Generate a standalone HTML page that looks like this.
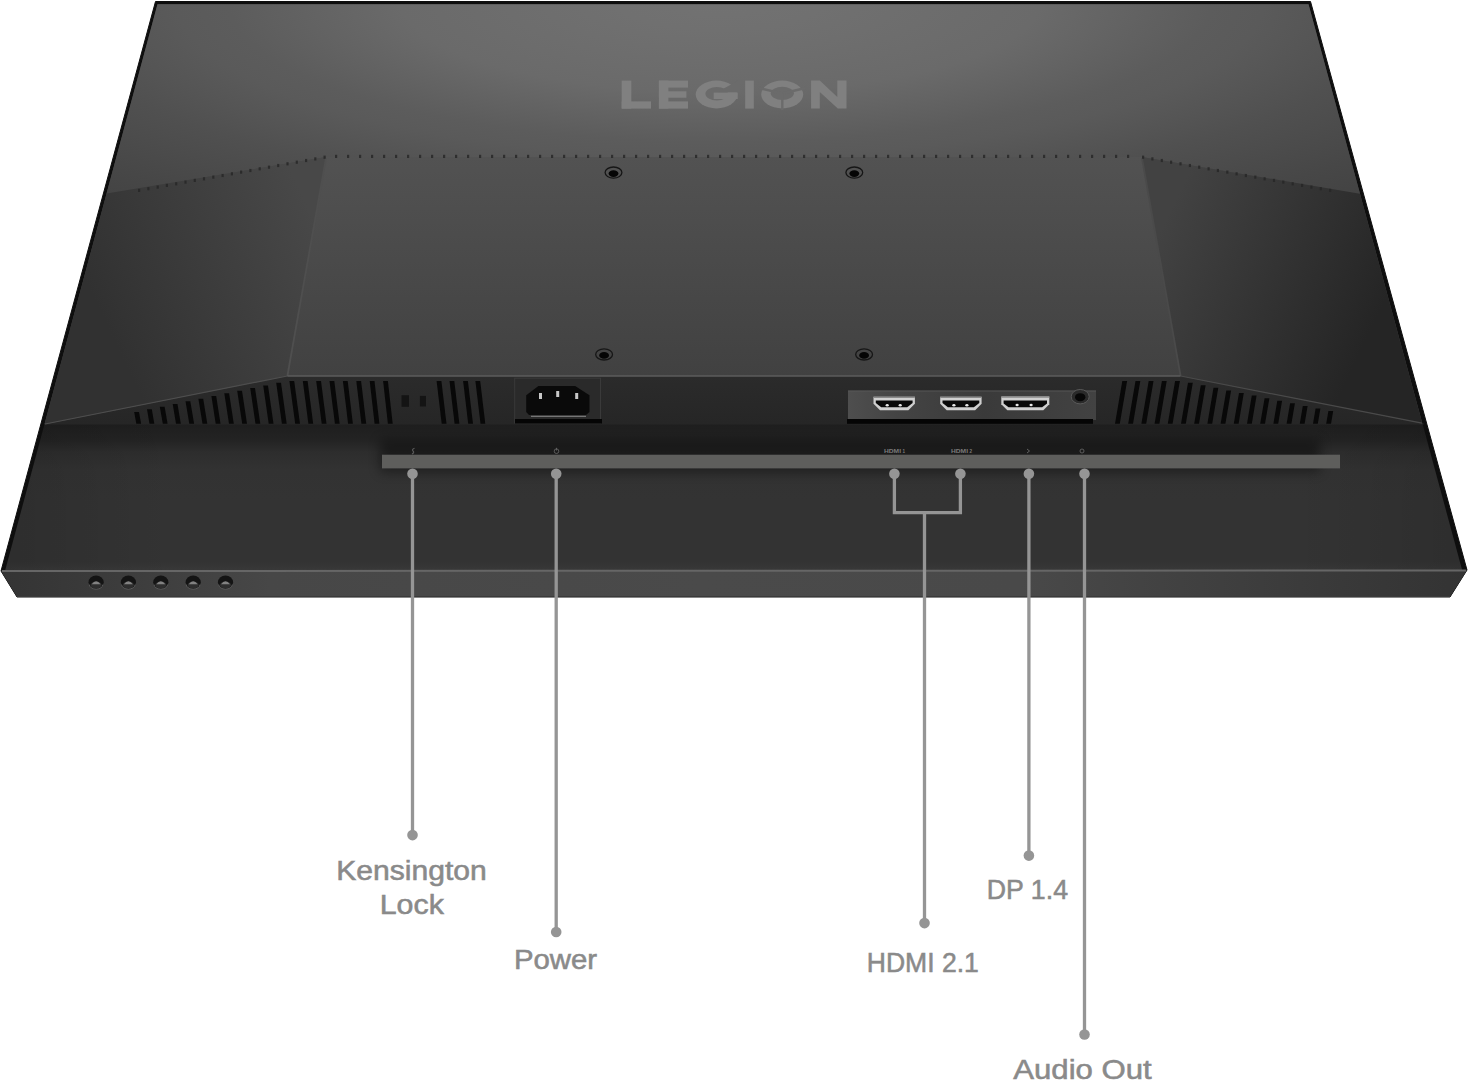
<!DOCTYPE html>
<html><head><meta charset="utf-8"><title>Monitor ports</title>
<style>html,body{margin:0;padding:0;background:#fff;width:1468px;height:1080px;overflow:hidden}svg{display:block}</style>
</head><body><svg width="1468" height="1080" viewBox="0 0 1468 1080"><defs>
<radialGradient id="gUp" gradientUnits="userSpaceOnUse" cx="720" cy="0" r="1040" gradientTransform="translate(720 0) scale(1 0.289) translate(-720 0)">
 <stop offset="0" stop-color="#727272"/><stop offset="0.1" stop-color="#707070"/><stop offset="0.308" stop-color="#6a6a6a"/>
 <stop offset="0.473" stop-color="#5c5c5c"/><stop offset="0.523" stop-color="#5a5a5a"/><stop offset="0.654" stop-color="#505050"/>
 <stop offset="0.808" stop-color="#474747"/><stop offset="1" stop-color="#3e3e3e"/>
</radialGradient>
<linearGradient id="gCen" gradientUnits="userSpaceOnUse" x1="0" y1="157" x2="0" y2="376">
 <stop offset="0" stop-color="#525252"/><stop offset="1" stop-color="#414141"/>
</linearGradient>
<linearGradient id="gWingL" gradientUnits="userSpaceOnUse" x1="300" y1="190" x2="90" y2="290">
 <stop offset="0" stop-color="#484848"/><stop offset="1" stop-color="#313131"/>
</linearGradient>
<linearGradient id="gWingR" gradientUnits="userSpaceOnUse" x1="1180" y1="190" x2="1390" y2="290">
 <stop offset="0" stop-color="#424242"/><stop offset="1" stop-color="#252525"/>
</linearGradient>
<linearGradient id="gShelf" gradientUnits="userSpaceOnUse" x1="0" y1="376" x2="0" y2="424">
 <stop offset="0" stop-color="#2b2b2b"/><stop offset="1" stop-color="#262626"/>
</linearGradient>
<linearGradient id="gChin" gradientUnits="userSpaceOnUse" x1="0" y1="424" x2="0" y2="570">
 <stop offset="0" stop-color="#1e1e1e"/><stop offset="0.11" stop-color="#232323"/><stop offset="0.192" stop-color="#2d2d2d"/>
 <stop offset="0.315" stop-color="#323232"/><stop offset="0.52" stop-color="#333333"/><stop offset="0.945" stop-color="#333333"/><stop offset="1" stop-color="#383838"/>
</linearGradient>
<linearGradient id="gPlate" gradientUnits="userSpaceOnUse" x1="848" y1="0" x2="1096" y2="0">
 <stop offset="0" stop-color="#4e4e4e"/><stop offset="0.2" stop-color="#444"/><stop offset="0.55" stop-color="#3a3a3a"/><stop offset="1" stop-color="#424242"/>
</linearGradient>
<linearGradient id="gLedge" gradientUnits="userSpaceOnUse" x1="0" y1="0" x2="1468" y2="0">
 <stop offset="0" stop-color="#343434"/><stop offset="0.034" stop-color="#373737"/><stop offset="0.184" stop-color="#474747"/>
 <stop offset="0.477" stop-color="#4a4a4a"/><stop offset="0.695" stop-color="#494949"/><stop offset="0.9" stop-color="#3a3a3a"/><stop offset="1" stop-color="#333"/>
</linearGradient>
<linearGradient id="gSide" gradientUnits="userSpaceOnUse" x1="0" y1="0" x2="1468" y2="0">
 <stop offset="0" stop-color="#000" stop-opacity="0.11"/><stop offset="0.12" stop-color="#000" stop-opacity="0"/>
 <stop offset="0.88" stop-color="#000" stop-opacity="0"/><stop offset="1" stop-color="#000" stop-opacity="0.11"/>
</linearGradient>
<filter id="blur6" x="-20%" y="-50%" width="140%" height="200%"><feGaussianBlur stdDeviation="6"/></filter>
</defs><path d="M155.5,1.5 L1310.5,1.5 L1467,570 L1450,597 L17,597 L1,571 Z" fill="#0e0e0e" stroke="#0e0e0e" stroke-width="1" stroke-linejoin="round"/><path d="M44.7,423.5 L1422.4,423.5 L1462.1,570 L5.3,570 Z" fill="url(#gChin)"/><path d="M44.7,423.5 L1422.4,423.5 L1462.1,570 L5.3,570 Z" fill="url(#gSide)"/><path d="M380,440 L1320,440 L1320,472 L380,472 Z" fill="#000" opacity="0.4" filter="url(#blur6)"/><path d="M157.5,4.2 L1308.5,4.2 L1422.5,424 L44.6,424 Z" fill="#454545"/><path d="M157.5,4.2 L1308.5,4.2 L1360.1,194 L1360,193.7 L1142,157 L326,157 L106.4,193.5 L106.4,194 Z" fill="url(#gUp)"/><path d="M106.6,193.5 L106.4,193.5 L326,157 L287.4,376 L43.5,424.5 L44.4,424.5 Z" fill="url(#gWingL)"/><path d="M1360,193.7 L1360.0,193.7 L1422.5,424 L1423.6,423.5 L1180.6,376 L1142,157 Z" fill="url(#gWingR)"/><path d="M326,157 L1142,157 L1180.6,376 L287.4,376 Z" fill="url(#gCen)"/><path d="M326,158 L287.4,376" stroke="#4f4f4f" stroke-width="1.8"/><path d="M1142,158 L1180.6,376" stroke="#4a4a4a" stroke-width="1.8"/><path d="M43.5,424.5 L287.4,376 L1180.6,376 L1423.6,423.5 L1423.6,424.5 Z" fill="url(#gShelf)"/><path d="M45,424 L287.4,376" fill="none" stroke="#4e4e4e" stroke-width="1.2"/><path d="M287.4,376 L1180.6,376" fill="none" stroke="#5c5c5c" stroke-width="1.6"/><path d="M1180.6,376 L1422,423.2" fill="none" stroke="#4a4a4a" stroke-width="1.2"/><path d="M1,571 L1467,570 L1450,597 L17,597 Z" fill="url(#gLedge)"/><path d="M17,596.5 L1450,596.5" stroke="#3a3a3a" stroke-width="1.2"/><path d="M2,571 L1466,570.5" stroke="#666" stroke-width="2"/><path d="M134.2,412.0 L139.0,412.0 L141.1,423.8 L136.3,423.8 Z" fill="#080808"/><path d="M147.0,409.3 L151.8,409.3 L154.3,423.8 L149.5,423.8 Z" fill="#080808"/><path d="M159.8,406.7 L164.6,406.7 L167.6,423.8 L162.8,423.8 Z" fill="#080808"/><path d="M172.7,404.0 L177.5,404.0 L180.8,423.8 L176.0,423.8 Z" fill="#080808"/><path d="M185.5,401.3 L190.3,401.3 L194.1,423.8 L189.3,423.8 Z" fill="#080808"/><path d="M198.4,398.7 L203.2,398.7 L207.3,423.8 L202.5,423.8 Z" fill="#080808"/><path d="M211.4,396.0 L216.2,396.0 L220.5,423.8 L215.7,423.8 Z" fill="#080808"/><path d="M224.3,393.3 L229.1,393.3 L233.8,423.8 L229.0,423.8 Z" fill="#080808"/><path d="M237.2,390.7 L242.0,390.7 L247.0,423.8 L242.2,423.8 Z" fill="#080808"/><path d="M250.2,388.0 L255.0,388.0 L260.3,423.8 L255.5,423.8 Z" fill="#080808"/><path d="M263.2,385.4 L268.0,385.4 L273.5,423.8 L268.7,423.8 Z" fill="#080808"/><path d="M276.2,382.7 L281.0,382.7 L286.7,423.8 L281.9,423.8 Z" fill="#080808"/><path d="M289.4,380.9 L294.2,380.9 L300.0,423.8 L295.2,423.8 Z" fill="#080808"/><path d="M302.8,380.9 L307.6,380.9 L313.2,423.8 L308.4,423.8 Z" fill="#080808"/><path d="M316.2,380.9 L321.0,380.9 L326.5,423.8 L321.7,423.8 Z" fill="#080808"/><path d="M329.5,380.9 L334.3,380.9 L339.7,423.8 L334.9,423.8 Z" fill="#080808"/><path d="M342.9,380.9 L347.7,380.9 L352.9,423.8 L348.1,423.8 Z" fill="#080808"/><path d="M356.3,380.9 L361.1,380.9 L366.2,423.8 L361.4,423.8 Z" fill="#080808"/><path d="M369.7,380.9 L374.5,380.9 L379.4,423.8 L374.6,423.8 Z" fill="#080808"/><path d="M383.1,380.9 L387.9,380.9 L392.7,423.8 L387.9,423.8 Z" fill="#080808"/><path d="M436.6,380.9 L441.4,380.9 L446.5,423.8 L441.7,423.8 Z" fill="#080808"/><path d="M449.5,380.9 L454.3,380.9 L459.4,423.8 L454.6,423.8 Z" fill="#080808"/><path d="M463.1,380.9 L467.9,380.9 L473.0,423.8 L468.2,423.8 Z" fill="#080808"/><path d="M475.4,380.9 L480.2,380.9 L485.3,423.8 L480.5,423.8 Z" fill="#080808"/><path d="M1122.3,381.0 L1127.1,381.0 L1119.8,423.8 L1115.0,423.8 Z" fill="#080808"/><path d="M1135.5,381.0 L1140.3,381.0 L1133.0,423.8 L1128.2,423.8 Z" fill="#080808"/><path d="M1148.7,381.0 L1153.5,381.0 L1146.2,423.8 L1141.4,423.8 Z" fill="#080808"/><path d="M1161.9,381.0 L1166.7,381.0 L1159.4,423.8 L1154.6,423.8 Z" fill="#080808"/><path d="M1175.1,381.0 L1179.9,381.0 L1172.6,423.8 L1167.8,423.8 Z" fill="#080808"/><path d="M1188.0,382.7 L1192.8,382.7 L1185.8,423.8 L1181.0,423.8 Z" fill="#080808"/><path d="M1200.8,385.3 L1205.6,385.3 L1199.0,423.8 L1194.2,423.8 Z" fill="#080808"/><path d="M1213.5,387.8 L1218.3,387.8 L1212.2,423.8 L1207.4,423.8 Z" fill="#080808"/><path d="M1226.3,390.4 L1231.1,390.4 L1225.4,423.8 L1220.6,423.8 Z" fill="#080808"/><path d="M1239.0,393.0 L1243.8,393.0 L1238.6,423.8 L1233.8,423.8 Z" fill="#080808"/><path d="M1251.8,395.6 L1256.6,395.6 L1251.8,423.8 L1247.0,423.8 Z" fill="#080808"/><path d="M1264.6,398.2 L1269.4,398.2 L1265.0,423.8 L1260.2,423.8 Z" fill="#080808"/><path d="M1277.3,400.8 L1282.1,400.8 L1278.2,423.8 L1273.4,423.8 Z" fill="#080808"/><path d="M1290.1,403.3 L1294.9,403.3 L1291.4,423.8 L1286.6,423.8 Z" fill="#080808"/><path d="M1302.8,405.9 L1307.6,405.9 L1304.6,423.8 L1299.8,423.8 Z" fill="#080808"/><path d="M1315.6,408.5 L1320.4,408.5 L1317.8,423.8 L1313.0,423.8 Z" fill="#080808"/><path d="M1328.4,411.1 L1333.2,411.1 L1331.0,423.8 L1326.2,423.8 Z" fill="#080808"/><rect x="401.5" y="395.2" width="7.5" height="11.6" fill="#141414"/><rect x="419.9" y="395.9" width="6.1" height="10.6" fill="#141414"/><rect x="514.7" y="378.2" width="85.8" height="44.9" fill="#2a2a2a" stroke="#3a3a3a" stroke-width="1"/><rect x="515" y="419" width="87" height="4.5" fill="#050505"/><path d="M538.4,386 L575.2,386 L589.5,395.3 L589.5,412 L586,415 L529,415 L526.2,412 L526.2,395.3 Z" fill="#0a0a0a"/><path d="M531,416.3 L586,416.3" stroke="#8a8a8a" stroke-width="1"/><rect x="539" y="393" width="3" height="6" fill="#c8c8c8"/><rect x="556.2" y="391" width="3" height="6" fill="#c8c8c8"/><rect x="575.2" y="393" width="3" height="6" fill="#c8c8c8"/><rect x="848" y="390.6" width="248" height="29.4" fill="url(#gPlate)"/><path d="M848,391 L1096,391" stroke="#5a5a5a" stroke-width="0.8"/><rect x="847" y="419" width="246" height="4.8" fill="#050505"/><path d="M873.5,396.8 L914.9,396.8 L914.9,403.7 L908.4,410.2 L880.0,410.2 L873.5,403.7 Z" fill="#cfcfcf"/><path d="M873.5,396.8 L914.9,396.8 L914.9,398.0 L873.5,398.0 Z" fill="#8a8a8a"/><path d="M875.8,400.6 L912.6,400.6 L912.6,403.1 L907.2,407.3 L881.2,407.3 L875.8,403.1 Z" fill="#080808"/><ellipse cx="887.2" cy="405.2" rx="1.6" ry="1.3" fill="#e8e8e8"/><ellipse cx="900.2" cy="405.2" rx="1.6" ry="1.3" fill="#e8e8e8"/><path d="M940.2,396.8 L981.6,396.8 L981.6,403.7 L975.1,410.2 L946.7,410.2 L940.2,403.7 Z" fill="#cfcfcf"/><path d="M940.2,396.8 L981.6,396.8 L981.6,398.0 L940.2,398.0 Z" fill="#8a8a8a"/><path d="M942.5,400.6 L979.3,400.6 L979.3,403.1 L973.9,407.3 L947.9,407.3 L942.5,403.1 Z" fill="#080808"/><ellipse cx="953.9" cy="405.2" rx="1.6" ry="1.3" fill="#e8e8e8"/><ellipse cx="966.9" cy="405.2" rx="1.6" ry="1.3" fill="#e8e8e8"/><path d="M1001.3,396.6 L1049.3,396.6 L1049.3,404.2 L1043.3,410.2 L1007.3,410.2 L1001.3,404.2 Z" fill="#cfcfcf"/><path d="M1001.3,396.6 L1049.3,396.6 L1049.3,397.8 L1001.3,397.8 Z" fill="#8a8a8a"/><path d="M1003.6,400.4 L1047.0,400.4 L1047.0,403.6 L1042.1,407.3 L1008.5,407.3 L1003.6,403.6 Z" fill="#080808"/><ellipse cx="1017.1" cy="405.0" rx="1.6" ry="1.3" fill="#e8e8e8"/><ellipse cx="1031.1" cy="405.0" rx="1.6" ry="1.3" fill="#e8e8e8"/><ellipse cx="1080.2" cy="396.7" rx="9" ry="7.2" fill="#2a2a2a" stroke="#5a5a5a" stroke-width="1"/><ellipse cx="1080.2" cy="397.2" rx="5.2" ry="4" fill="#070707"/><ellipse cx="613.5" cy="172.6" rx="8.4" ry="5.6" fill="none" stroke="#161616" stroke-width="1.3"/><ellipse cx="613.5" cy="173.6" rx="4.9" ry="3.4" fill="#050505"/><ellipse cx="854.3" cy="172.6" rx="8.4" ry="5.6" fill="none" stroke="#161616" stroke-width="1.3"/><ellipse cx="854.3" cy="173.6" rx="4.9" ry="3.4" fill="#050505"/><ellipse cx="604.1" cy="354.4" rx="8.4" ry="5.6" fill="none" stroke="#161616" stroke-width="1.3"/><ellipse cx="604.1" cy="355.4" rx="4.9" ry="3.4" fill="#050505"/><ellipse cx="864.1" cy="354.4" rx="8.4" ry="5.6" fill="none" stroke="#161616" stroke-width="1.3"/><ellipse cx="864.1" cy="355.4" rx="4.9" ry="3.4" fill="#050505"/><ellipse cx="96.1" cy="582.2" rx="7.6" ry="6.8" fill="#141414"/><path d="M89.3,584.5 A6.8,4.6 0 0 0 102.9,584.5" fill="none" stroke="#5a5a5a" stroke-width="1"/><ellipse cx="96.1" cy="585" rx="5.6" ry="3.6" fill="#2e2e2e"/><path d="M91.6,584.2 Q96.1,578.5 100.6,584.2 Z" fill="#909090" opacity="0.85"/><ellipse cx="128.4" cy="582.2" rx="7.6" ry="6.8" fill="#141414"/><path d="M121.6,584.5 A6.8,4.6 0 0 0 135.2,584.5" fill="none" stroke="#5a5a5a" stroke-width="1"/><ellipse cx="128.4" cy="585" rx="5.6" ry="3.6" fill="#2e2e2e"/><path d="M123.9,584.2 Q128.4,578.5 132.9,584.2 Z" fill="#909090" opacity="0.85"/><ellipse cx="160.8" cy="582.2" rx="7.6" ry="6.8" fill="#141414"/><path d="M154.0,584.5 A6.8,4.6 0 0 0 167.6,584.5" fill="none" stroke="#5a5a5a" stroke-width="1"/><ellipse cx="160.8" cy="585" rx="5.6" ry="3.6" fill="#2e2e2e"/><path d="M156.3,584.2 Q160.8,578.5 165.3,584.2 Z" fill="#909090" opacity="0.85"/><ellipse cx="193.2" cy="582.2" rx="7.6" ry="6.8" fill="#141414"/><path d="M186.3,584.5 A6.8,4.6 0 0 0 200.0,584.5" fill="none" stroke="#5a5a5a" stroke-width="1"/><ellipse cx="193.2" cy="585" rx="5.6" ry="3.6" fill="#2e2e2e"/><path d="M188.7,584.2 Q193.2,578.5 197.7,584.2 Z" fill="#909090" opacity="0.85"/><ellipse cx="225.5" cy="582.2" rx="7.6" ry="6.8" fill="#141414"/><path d="M218.7,584.5 A6.8,4.6 0 0 0 232.3,584.5" fill="none" stroke="#5a5a5a" stroke-width="1"/><ellipse cx="225.5" cy="585" rx="5.6" ry="3.6" fill="#2e2e2e"/><path d="M221.0,584.2 Q225.5,578.5 230.0,584.2 Z" fill="#909090" opacity="0.85"/><g fill="#262626" opacity="0.8"><rect x="138.0" y="188.8" width="2.2" height="3.2"/><rect x="147.3" y="187.1" width="2.2" height="3.2"/><rect x="156.6" y="185.5" width="2.2" height="3.2"/><rect x="165.8" y="183.8" width="2.2" height="3.2"/><rect x="175.1" y="182.2" width="2.2" height="3.2"/><rect x="184.4" y="180.5" width="2.2" height="3.2"/><rect x="193.7" y="178.8" width="2.2" height="3.2"/><rect x="202.9" y="177.2" width="2.2" height="3.2"/><rect x="212.2" y="175.5" width="2.2" height="3.2"/><rect x="221.5" y="173.9" width="2.2" height="3.2"/><rect x="230.8" y="172.2" width="2.2" height="3.2"/><rect x="240.0" y="170.5" width="2.2" height="3.2"/><rect x="249.3" y="168.9" width="2.2" height="3.2"/><rect x="258.6" y="167.2" width="2.2" height="3.2"/><rect x="267.9" y="165.6" width="2.2" height="3.2"/><rect x="277.1" y="163.9" width="2.2" height="3.2"/><rect x="286.4" y="162.2" width="2.2" height="3.2"/><rect x="295.7" y="160.6" width="2.2" height="3.2"/><rect x="305.0" y="158.9" width="2.2" height="3.2"/><rect x="314.2" y="157.3" width="2.2" height="3.2"/><rect x="323.5" y="155.6" width="2.2" height="3.2"/><rect x="335.0" y="154.8" width="2.2" height="3.2"/><rect x="347.0" y="154.8" width="2.2" height="3.2"/><rect x="359.0" y="154.8" width="2.2" height="3.2"/><rect x="371.0" y="154.8" width="2.2" height="3.2"/><rect x="383.0" y="154.8" width="2.2" height="3.2"/><rect x="395.0" y="154.8" width="2.2" height="3.2"/><rect x="407.0" y="154.8" width="2.2" height="3.2"/><rect x="419.0" y="154.8" width="2.2" height="3.2"/><rect x="431.0" y="154.8" width="2.2" height="3.2"/><rect x="443.0" y="154.8" width="2.2" height="3.2"/><rect x="455.0" y="154.8" width="2.2" height="3.2"/><rect x="467.0" y="154.8" width="2.2" height="3.2"/><rect x="479.0" y="154.8" width="2.2" height="3.2"/><rect x="491.0" y="154.8" width="2.2" height="3.2"/><rect x="503.0" y="154.8" width="2.2" height="3.2"/><rect x="515.0" y="154.8" width="2.2" height="3.2"/><rect x="527.0" y="154.8" width="2.2" height="3.2"/><rect x="539.0" y="154.8" width="2.2" height="3.2"/><rect x="551.0" y="154.8" width="2.2" height="3.2"/><rect x="563.0" y="154.8" width="2.2" height="3.2"/><rect x="575.0" y="154.8" width="2.2" height="3.2"/><rect x="587.0" y="154.8" width="2.2" height="3.2"/><rect x="599.0" y="154.8" width="2.2" height="3.2"/><rect x="611.0" y="154.8" width="2.2" height="3.2"/><rect x="623.0" y="154.8" width="2.2" height="3.2"/><rect x="635.0" y="154.8" width="2.2" height="3.2"/><rect x="647.0" y="154.8" width="2.2" height="3.2"/><rect x="659.0" y="154.8" width="2.2" height="3.2"/><rect x="671.0" y="154.8" width="2.2" height="3.2"/><rect x="683.0" y="154.8" width="2.2" height="3.2"/><rect x="695.0" y="154.8" width="2.2" height="3.2"/><rect x="707.0" y="154.8" width="2.2" height="3.2"/><rect x="719.0" y="154.8" width="2.2" height="3.2"/><rect x="731.0" y="154.8" width="2.2" height="3.2"/><rect x="743.0" y="154.8" width="2.2" height="3.2"/><rect x="755.0" y="154.8" width="2.2" height="3.2"/><rect x="767.0" y="154.8" width="2.2" height="3.2"/><rect x="779.0" y="154.8" width="2.2" height="3.2"/><rect x="791.0" y="154.8" width="2.2" height="3.2"/><rect x="803.0" y="154.8" width="2.2" height="3.2"/><rect x="815.0" y="154.8" width="2.2" height="3.2"/><rect x="827.0" y="154.8" width="2.2" height="3.2"/><rect x="839.0" y="154.8" width="2.2" height="3.2"/><rect x="851.0" y="154.8" width="2.2" height="3.2"/><rect x="863.0" y="154.8" width="2.2" height="3.2"/><rect x="875.0" y="154.8" width="2.2" height="3.2"/><rect x="887.0" y="154.8" width="2.2" height="3.2"/><rect x="899.0" y="154.8" width="2.2" height="3.2"/><rect x="911.0" y="154.8" width="2.2" height="3.2"/><rect x="923.0" y="154.8" width="2.2" height="3.2"/><rect x="935.0" y="154.8" width="2.2" height="3.2"/><rect x="947.0" y="154.8" width="2.2" height="3.2"/><rect x="959.0" y="154.8" width="2.2" height="3.2"/><rect x="971.0" y="154.8" width="2.2" height="3.2"/><rect x="983.0" y="154.8" width="2.2" height="3.2"/><rect x="995.0" y="154.8" width="2.2" height="3.2"/><rect x="1007.0" y="154.8" width="2.2" height="3.2"/><rect x="1019.0" y="154.8" width="2.2" height="3.2"/><rect x="1031.0" y="154.8" width="2.2" height="3.2"/><rect x="1043.0" y="154.8" width="2.2" height="3.2"/><rect x="1055.0" y="154.8" width="2.2" height="3.2"/><rect x="1067.0" y="154.8" width="2.2" height="3.2"/><rect x="1079.0" y="154.8" width="2.2" height="3.2"/><rect x="1091.0" y="154.8" width="2.2" height="3.2"/><rect x="1103.0" y="154.8" width="2.2" height="3.2"/><rect x="1115.0" y="154.8" width="2.2" height="3.2"/><rect x="1127.0" y="154.8" width="2.2" height="3.2"/><rect x="1142.0" y="155.6" width="2.2" height="3.2"/><rect x="1151.3" y="157.3" width="2.2" height="3.2"/><rect x="1160.7" y="158.9" width="2.2" height="3.2"/><rect x="1170.0" y="160.6" width="2.2" height="3.2"/><rect x="1179.4" y="162.2" width="2.2" height="3.2"/><rect x="1188.8" y="163.9" width="2.2" height="3.2"/><rect x="1198.1" y="165.6" width="2.2" height="3.2"/><rect x="1207.5" y="167.2" width="2.2" height="3.2"/><rect x="1216.8" y="168.9" width="2.2" height="3.2"/><rect x="1226.2" y="170.5" width="2.2" height="3.2"/><rect x="1235.5" y="172.2" width="2.2" height="3.2"/><rect x="1244.8" y="173.9" width="2.2" height="3.2"/><rect x="1254.2" y="175.5" width="2.2" height="3.2"/><rect x="1263.5" y="177.2" width="2.2" height="3.2"/><rect x="1272.9" y="178.8" width="2.2" height="3.2"/><rect x="1282.2" y="180.5" width="2.2" height="3.2"/><rect x="1291.6" y="182.2" width="2.2" height="3.2"/><rect x="1301.0" y="183.8" width="2.2" height="3.2"/><rect x="1310.3" y="185.5" width="2.2" height="3.2"/><rect x="1319.7" y="187.1" width="2.2" height="3.2"/><rect x="1329.0" y="188.8" width="2.2" height="3.2"/></g><g fill="#808080"><rect x="621.7" y="80.6" width="9.6" height="28"/><rect x="621.7" y="101.4" width="29.3" height="7.2"/><rect x="658.9" y="80.6" width="9.5" height="28"/><rect x="658.9" y="80.6" width="29.1" height="7"/><rect x="658.9" y="91.3" width="27.5" height="6.4"/><rect x="658.9" y="101.4" width="29.1" height="7.2"/><rect x="745.2" y="80.6" width="8.6" height="28"/><path d="M811.1,80.6 L819.8,80.6 L837.3,97 L837.3,80.6 L846.5,80.6 L846.5,108.6 L837.8,108.6 L819.8,92 L819.8,108.6 L811.1,108.6 Z"/></g><ellipse cx="716.5" cy="94.5" rx="20.8" ry="13.9" fill="#808080"/><ellipse cx="716.8" cy="93.8" rx="11.4" ry="6.7" fill="#6b6b6b"/><path d="M716.5,92.6 L731.5,84.2 L740,79 L740,92.6 Z" fill="#6b6b6b"/><rect x="713.7" y="92.6" width="24" height="6.4" fill="#808080"/><ellipse cx="782.2" cy="94.5" rx="21" ry="13.9" fill="#808080"/><ellipse cx="782.3" cy="93.3" rx="11.6" ry="6.6" fill="#6b6b6b"/><g stroke="#6b6b6b" stroke-width="2.4" fill="none"><path d="M782.3,93.5 L759,88"/><path d="M782.3,93.5 L805.5,88"/><path d="M782.3,93.5 L782.3,110"/></g><rect x="382" y="454.7" width="958" height="13.7" fill="#5e5e5c"/><g fill="#7a7a7a" font-family="Liberation Sans" font-size="4.6" font-weight="bold"><text x="884" y="453.3" textLength="17" lengthAdjust="spacingAndGlyphs">HDMI</text><text x="902.5" y="453.3">1</text><text x="951" y="453.3" textLength="17" lengthAdjust="spacingAndGlyphs">HDMI</text><text x="969.5" y="453.3">2</text></g><path d="M414.5,448.2 Q411.5,449.5 413,451 Q414.8,452.5 412,454" fill="none" stroke="#5a5a5a" stroke-width="1.1"/><circle cx="556.5" cy="451.2" r="2.3" fill="none" stroke="#6a6a6a" stroke-width="0.8"/><path d="M556.5,447.8 L556.5,450.5" stroke="#6a6a6a" stroke-width="0.8"/><path d="M1027,449 L1029.5,451 L1027,453" fill="none" stroke="#6a6a6a" stroke-width="0.9"/><circle cx="1082" cy="451" r="2" fill="none" stroke="#6a6a6a" stroke-width="0.8"/><g stroke="#959595" stroke-width="3.3" fill="none"><path d="M412.5,474 L412.5,835"/><path d="M556.2,474 L556.2,932"/><path d="M894.4,474 L894.4,512.6 L960.4,512.6 L960.4,474"/><path d="M924.5,512.6 L924.5,923"/><path d="M1028.9,474 L1028.9,855.6"/><path d="M1084.5,474 L1084.5,1034.4"/></g><g fill="#959595"><circle cx="412.5" cy="473.7" r="5.3"/><circle cx="556.2" cy="473.7" r="5.3"/><circle cx="894.4" cy="473.7" r="5.3"/><circle cx="960.4" cy="473.7" r="5.3"/><circle cx="1028.9" cy="473.7" r="5.3"/><circle cx="1084.5" cy="473.7" r="5.3"/><circle cx="412.5" cy="835.1" r="5.3"/><circle cx="556.2" cy="932" r="5.3"/><circle cx="924.5" cy="923.1" r="5.3"/><circle cx="1028.9" cy="855.6" r="5.3"/><circle cx="1084.5" cy="1034.5" r="5.3"/></g><g fill="#8a8a8a" stroke="#8a8a8a" stroke-width="0.55" font-family="Liberation Sans" font-size="27" text-anchor="middle"><text x="411.5" y="880.0" textLength="150.6" lengthAdjust="spacingAndGlyphs">Kensington</text><text x="411.8" y="913.7" textLength="64.1" lengthAdjust="spacingAndGlyphs">Lock</text><text x="555.5" y="969.4" textLength="83.2" lengthAdjust="spacingAndGlyphs">Power</text><text x="922.8" y="972.2" textLength="112.1" lengthAdjust="spacingAndGlyphs">HDMI 2.1</text><text x="1027.4" y="899.0" textLength="81.2" lengthAdjust="spacingAndGlyphs">DP 1.4</text><text x="1082.5" y="1079.0" textLength="138.5" lengthAdjust="spacingAndGlyphs">Audio Out</text></g></svg></body></html>
